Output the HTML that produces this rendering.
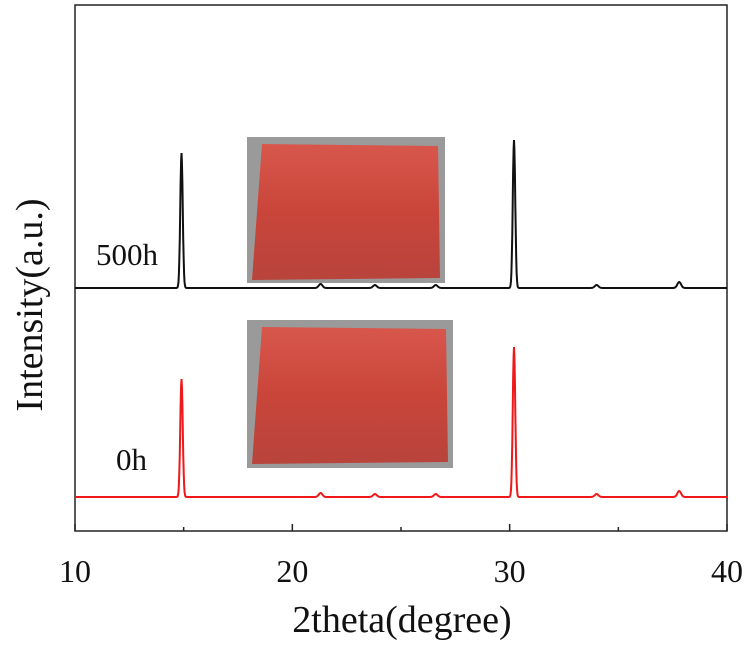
<!DOCTYPE html>
<html><head><meta charset="utf-8"><style>
body{margin:0;background:#fff;width:750px;height:648px;overflow:hidden}
svg text{font-family:"Liberation Serif",serif;fill:#111}
</style></head><body>
<svg width="750" height="648">
<defs>
<linearGradient id="g1" x1="0" y1="0" x2="0" y2="1"><stop offset="0" stop-color="#d8574c"/><stop offset="0.5" stop-color="#c9453a"/><stop offset="1" stop-color="#b8443c"/></linearGradient>
</defs>
<rect x="75" y="5" width="652" height="526" fill="none" stroke="#222" stroke-width="1.5"/>
<g id="ticks"></g>
<g><rect x="247" y="137" width="198" height="146" fill="#9a9a9a"/><polygon points="262,144 438,146 440,278 252,280" fill="url(#g1)"/></g>
<g><rect x="247" y="320" width="206" height="148" fill="#9a9a9a"/><polygon points="262,327 446,329 448,462 252,464" fill="url(#g1)"/></g>
<g id="series"></g>
<text x="96" y="265" font-size="31">500h</text>
<text x="116" y="470" font-size="31">0h</text>
<text x="402" y="632" font-size="38" text-anchor="middle">2theta(degree)</text>
<text transform="translate(42,305) rotate(-90)" font-size="38" text-anchor="middle">Intensity(a.u.)</text>
</svg>
<script>
const tickValues=[10,15,20,25,30,35,40];
const tickLabels=["10","20","30","40"];
const peakPos=[14.9,21.3,23.8,26.6,30.2,34.0,37.8];
const peaks500h=[135,4,3,3,148,3,6];
const peaks0h=[118,4,3,3,150,3,6];
const baselines=[288,497];
const X=v=>75+(v-10)*(652/30);
const ns="http://www.w3.org/2000/svg";
const tg=document.getElementById('ticks');
tickValues.forEach(v=>{const l=document.createElementNS(ns,'line');l.setAttribute('x1',X(v));l.setAttribute('x2',X(v));l.setAttribute('y1',531);l.setAttribute('y2',v%10==0?524:527);l.setAttribute('stroke','#222');l.setAttribute('stroke-width','1.5');


tg.appendChild(l);});
tickLabels.forEach(s=>{const t=document.createElementNS(ns,'text');t.setAttribute('x',X(+s));t.setAttribute('y',582);t.setAttribute('font-size','32');t.setAttribute('text-anchor','middle');t.textContent=s;


tg.appendChild(t);});
function path(peaks,base){let d='';for(let v=10;v<=40.001;v+=0.02){let y=base;peaks.forEach((h,i)=>{const w=h>50?0.08:0.12;y-=h*Math.exp(-Math.pow((v-peakPos[i])/w,2));});d+=(d?'L':'M')+X(v).toFixed(1)+','+y.toFixed(1);}return d;}
const sg=document.getElementById('series');
[[peaks500h,baselines[0],'#111','series-500h'],[peaks0h,baselines[1],'#f01818','series-0h']].forEach(s=>{const p=document.createElementNS(ns,'path');p.setAttribute('d',path(s[0],s[1]));p.setAttribute('fill','none');p.setAttribute('stroke',s[2]);p.setAttribute('stroke-width','2');


sg.appendChild(p);});
</script>
</body></html>
